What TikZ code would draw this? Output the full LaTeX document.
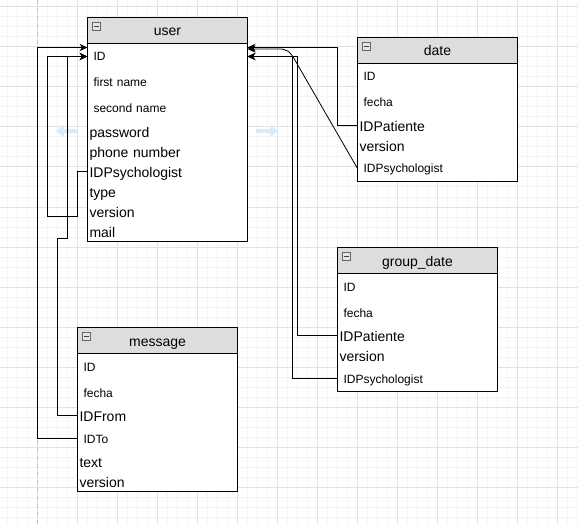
\documentclass[tikz,border=0pt]{standalone}
\usepackage{fontspec}
\setmainfont{Liberation Sans}
\usetikzlibrary{arrows.meta,calc}
\definecolor{hdrfill}{HTML}{DDDDDD}
\definecolor{gridminor}{HTML}{F4F4F4}
\definecolor{gridmajor}{HTML}{E2E2E2}
\definecolor{pagebreak}{HTML}{C4C4C4}
\definecolor{hintblue}{HTML}{D8ECFB}
\begin{document}
\begin{tikzpicture}[x=0.75pt,y=-0.75pt,
  minorline/.style={draw=gridminor,line width=0.75pt},
  majorline/.style={draw=gridmajor,line width=0.75pt},
  hdrbox/.style={draw,line width=0.75pt,fill=hdrfill,minimum width=120pt,minimum height=19.5pt,inner sep=0pt,outer sep=0pt,anchor=north west,text height=9.75pt,text depth=1.5pt,font=\fontsize{10.5pt}{12pt}\selectfont},
  rowS/.style={fill=white,anchor=north west,text width=111pt,inner xsep=4.5pt,inner ysep=0pt,outer sep=0pt,minimum height=19.5pt,align=left,text height=8.5pt,text depth=1.75pt,font=\fontsize{9pt}{10pt}\selectfont},
  rowL/.style={fill=white,anchor=north west,text width=117pt,inner xsep=1.5pt,inner ysep=0pt,outer sep=0pt,minimum height=15pt,align=left,text height=10pt,text depth=1.6pt,font=\fontsize{10.5pt}{12pt}\selectfont},
  tblborder/.style={draw,line width=0.75pt},
  minusbox/.style={draw=black!60,fill=black!10,minimum size=6pt,inner sep=0pt,line width=0.5pt,
    path picture={\draw[black!75,line width=0.9pt] ([xshift=1.4pt]path picture bounding box.west) -- ([xshift=-1.4pt]path picture bounding box.east);}},
  conn/.style={draw,line width=0.75pt,-{Stealth[length=6pt,width=5.5pt]}},
  hint/.style={draw=hintblue,line width=3.5pt,-{Triangle[length=6pt,width=9pt]}}
]
\useasboundingbox (0,0) rectangle (578,524);
\fill[white] (0,0) rectangle (578,524);
% grid
\foreach \g in {7,17,...,577} {\draw[minorline] (\g,0) -- (\g,524);}
\foreach \g in {7,17,...,524} {\draw[minorline] (0,\g) -- (578,\g);}
\foreach \g in {37,77,...,577} {\draw[majorline] (\g,0) -- (\g,524);}
\foreach \g in {7,47,...,524} {\draw[majorline] (0,\g) -- (578,\g);}
\draw[pagebreak,line width=0.75pt,dash pattern=on 3pt off 3pt] (37,0) -- (37,524);

% hint arrows
\draw[hint] (78,131) -- (56,131);
\draw[hint] (256,131) -- (278,131);

% user
\node[hdrbox] (u-h) at (87.5,17.5) {user};
\node[rowS] (u-id) at (u-h.south west) {ID};
\node[rowS] (u-fn) at (u-id.south west) {first name};
\node[rowS] (u-sn) at (u-fn.south west) {second name};
\node[rowL] (u-pw) at (u-sn.south west) {password};
\node[rowL] (u-ph) at (u-pw.south west) {phone number};
\node[rowL] (u-psy) at (u-ph.south west) {IDPsychologist};
\node[rowL] (u-ty) at (u-psy.south west) {type};
\node[rowL] (u-ve) at (u-ty.south west) {version};
\node[rowL] (u-ma) at (u-ve.south west) {mail};
\draw[tblborder] (u-h.north west) rectangle (u-ma.south east);
\draw[tblborder] (u-h.south west) -- (u-h.south east);
\node[minusbox] (u-min) at ($(u-h.north west)+(9,9)$) {};

% date
\node[hdrbox] (d-h) at (357.5,37.5) {date};
\node[rowS] (d-id) at (d-h.south west) {ID};
\node[rowS] (d-fe) at (d-id.south west) {fecha};
\node[rowL] (d-pat) at (d-fe.south west) {IDPatiente};
\node[rowL] (d-ve) at (d-pat.south west) {version};
\node[rowS] (d-psy) at (d-ve.south west) {IDPsychologist};
\draw[tblborder] (d-h.north west) rectangle (d-psy.south east);
\draw[tblborder] (d-h.south west) -- (d-h.south east);
\node[minusbox] (d-min) at ($(d-h.north west)+(9,9)$) {};

% group_date
\node[hdrbox] (g-h) at (337.5,247.5) {group\_date};
\node[rowS] (g-id) at (g-h.south west) {ID};
\node[rowS] (g-fe) at (g-id.south west) {fecha};
\node[rowL] (g-pat) at (g-fe.south west) {IDPatiente};
\node[rowL] (g-ve) at (g-pat.south west) {version};
\node[rowS] (g-psy) at (g-ve.south west) {IDPsychologist};
\draw[tblborder] (g-h.north west) rectangle (g-psy.south east);
\draw[tblborder] (g-h.south west) -- (g-h.south east);
\node[minusbox] (g-min) at ($(g-h.north west)+(9,9)$) {};

% message
\node[hdrbox] (m-h) at (77.5,327.5) {message};
\node[rowS] (m-id) at (m-h.south west) {ID};
\node[rowS] (m-fe) at (m-id.south west) {fecha};
\node[rowL] (m-from) at (m-fe.south west) {IDFrom};
\node[rowS] (m-to) at (m-from.south west) {IDTo};
\node[rowL] (m-tx) at (m-to.south west) {text};
\node[rowL] (m-ve) at (m-tx.south west) {version};
\draw[tblborder] (m-h.north west) rectangle (m-ve.south east);
\draw[tblborder] (m-h.south west) -- (m-h.south east);
\node[minusbox] (m-min) at ($(m-h.north west)+(9,9)$) {};

% connectors
\draw[conn] (m-to.west) -- ++(-40,0) |- ($(u-id.west)+(0,-9)$);
\draw[conn] (u-psy.west) -- ++(-10,0) |- (47.5,216.5) |- (u-id.west);
\draw[conn] (m-from.west) -| (57.5,238.5) -- (67.5,238.5) |- (u-id.west);
\draw[conn] (d-pat.west) -| (337.5,47.5) -- ($(u-id.east)+(0,-9)$);
\draw[conn,line width=0.6pt] (d-psy.west) -- (296,62) .. controls (290,51) and (287,49) .. (279,49) -- ($(u-id.east)+(0,-7.5)$);
\draw[conn] (g-pat.west) -- ++(-40.5,0) |- (u-id.east);
\draw[conn] (g-psy.west) -- ++(-45.5,0) |- (u-id.east);
\end{tikzpicture}
\end{document}
